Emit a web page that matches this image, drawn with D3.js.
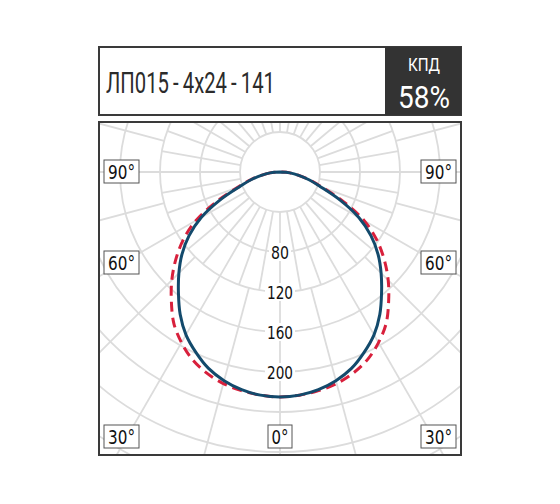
<!DOCTYPE html>
<html>
<head>
<meta charset="utf-8">
<script src="https://cdn.jsdelivr.net/npm/d3@7"></script>
<style>
  body { margin: 0; background: #fff; }
</style>
</head>
<body>
<div id="chart"></div>
<script>
const width = 560;
const height = 504;

// luminous intensity, cd/klm, 0° = straight down
const angles = [0, 5, 10, 15, 20, 25, 30, 35, 40, 45, 50, 55, 60, 65, 70, 75, 80, 85, 90];
const seriesC0 = [225, 224, 221, 216, 209, 199, 188, 174, 158, 143, 128, 111, 91, 66, 43, 30, 19, 10, 0];
const seriesC90 = [225, 224, 222, 219, 214, 207, 197, 185, 169, 153, 136, 118, 97, 70, 45, 31, 19, 10, 0];
const ringValues = [40, 80, 120, 160, 200, 240, 280, 320, 360, 400];
const ringLabels = [80, 120, 160, 200];
const sideLabels = ["90°", "60°", "30°"];
const bottomLabel = "0°";
const title = "ЛП015\u2009-\u20094x24\u2009-\u2009141";
const effLabel = "КПД";
const effValue = "58%";

const plot = { x0: 99, y0: 122, x1: 461, y1: 455 };
const cx = 280;
const cy = 172;

const r = d3.scaleLinear().domain([0, 200]).range([0, 200]);
const rad = (a) => (a * Math.PI) / 180;

const svg = d3
  .select("#chart")
  .append("svg")
  .attr("width", width)
  .attr("height", height)
  .style("font-family", "'DejaVu Sans', sans-serif");

// header
svg
  .append("rect")
  .attr("x", plot.x0)
  .attr("y", 47)
  .attr("width", plot.x1 - plot.x0)
  .attr("height", 68)
  .attr("fill", "#fff")
  .attr("stroke", "#3a3a3a")
  .attr("stroke-width", 2);

svg
  .append("rect")
  .attr("x", 385)
  .attr("y", 47)
  .attr("width", plot.x1 - 385)
  .attr("height", 68)
  .attr("fill", "#333");

const narrow = "'Liberation Sans Narrow', Roboto, sans-serif";

svg
  .append("text")
  .attr("x", 106)
  .attr("y", 93)
  .attr("font-family", narrow)
  .attr("font-size", 30)
  .attr("fill", "#2b2b2b")
  .attr("textLength", 169)
  .attr("lengthAdjust", "spacingAndGlyphs")
  .text(title);

svg
  .append("text")
  .attr("x", 408)
  .attr("y", 71)
  .attr("font-family", narrow)
  .attr("font-size", 18)
  .attr("fill", "#fff")
  .attr("textLength", 32)
  .attr("lengthAdjust", "spacingAndGlyphs")
  .text(effLabel);

svg
  .append("text")
  .attr("x", 398)
  .attr("y", 108)
  .attr("font-family", narrow)
  .attr("font-size", 31)
  .attr("fill", "#fff")
  .attr("textLength", 52)
  .attr("lengthAdjust", "spacingAndGlyphs")
  .text(effValue);

// plot area
svg
  .append("clipPath")
  .attr("id", "plot-clip")
  .append("rect")
  .attr("x", plot.x0)
  .attr("y", plot.y0)
  .attr("width", plot.x1 - plot.x0)
  .attr("height", plot.y1 - plot.y0);

const g = svg
  .append("g")
  .attr("clip-path", "url(#plot-clip)")
  .append("g")
  .attr("transform", `translate(${cx},${cy})`);

const grid = g.append("g").attr("stroke", "#dcdcdc").attr("stroke-width", 1.8).attr("fill", "none");

grid
  .selectAll("circle")
  .data(ringValues)
  .join("circle")
  .attr("r", (d) => r(d));

// spokes: every 10° near the centre, every 15° further out
const spokes = d3
  .range(0, 360, 10)
  .map((a) => ({ a, from: 40, to: 120 }))
  .concat(d3.range(0, 360, 15).map((a) => ({ a, from: 120, to: 500 })));
grid
  .selectAll("line")
  .data(spokes)
  .join("line")
  .attr("x1", (d) => r(d.from) * Math.sin(rad(d.a)))
  .attr("y1", (d) => r(d.from) * Math.cos(rad(d.a)))
  .attr("x2", (d) => r(d.to) * Math.sin(rad(d.a)))
  .attr("y2", (d) => r(d.to) * Math.cos(rad(d.a)));

// curves, mirrored left/right
function mirrored(values) {
  const pts = [];
  for (let i = angles.length - 1; i >= 0; i--) {
    pts.push([Math.PI + rad(angles[i]), r(values[i])]);
  }
  for (let i = 1; i < angles.length; i++) {
    pts.push([Math.PI - rad(angles[i]), r(values[i])]);
  }
  return pts;
}

const line = d3
  .lineRadial()
  .angle((d) => d[0])
  .radius((d) => d[1])
  .curve(d3.curveCatmullRomClosed);

g.append("path")
  .attr("d", line(mirrored(seriesC90)))
  .attr("fill", "none")
  .attr("stroke", "#d8203c")
  .attr("stroke-width", 3)
  .attr("stroke-dasharray", "10,6");

g.append("path")
  .attr("d", line(mirrored(seriesC0)))
  .attr("fill", "none")
  .attr("stroke", "#134a6c")
  .attr("stroke-width", 3);

// ring value labels
const ringLab = g.selectAll(".ring-label").data(ringLabels).join("g").attr("class", "ring-label");
ringLab
  .append("rect")
  .attr("x", (d) => (d >= 100 ? -15 : -11))
  .attr("y", (d) => r(d) - 9)
  .attr("width", (d) => (d >= 100 ? 30 : 22))
  .attr("height", 18)
  .attr("fill", "#fff");
ringLab
  .append("text")
  .attr("x", 0)
  .attr("y", (d) => r(d) + 7)
  .attr("text-anchor", "middle")
  .attr("font-size", 18)
  .attr("fill", "#111")
  .attr("textLength", (d) => (d >= 100 ? 26 : 18))
  .attr("lengthAdjust", "spacingAndGlyphs")
  .text((d) => d);

svg
  .append("rect")
  .attr("x", plot.x0)
  .attr("y", plot.y0)
  .attr("width", plot.x1 - plot.x0)
  .attr("height", plot.y1 - plot.y0)
  .attr("fill", "none")
  .attr("stroke", "#3a3a3a")
  .attr("stroke-width", 2);

// angle label boxes
const sideY = { "90°": 160, "60°": 251, "30°": 425 };
const boxes = [];
sideLabels.forEach((t) => {
  boxes.push({ t, x: 104, y: sideY[t], w: 35, tw: 27 });
  boxes.push({ t, x: 421, y: sideY[t], w: 35, tw: 27 });
});
boxes.push({ t: bottomLabel, x: 268, y: 425, w: 24, tw: 17 });

const box = svg.selectAll(".angle-label").data(boxes).join("g").attr("class", "angle-label");
box
  .append("rect")
  .attr("x", (d) => d.x)
  .attr("y", (d) => d.y)
  .attr("width", (d) => d.w)
  .attr("height", 23)
  .attr("fill", "#fff")
  .attr("stroke", "#555")
  .attr("stroke-width", 1);
box
  .append("text")
  .attr("x", (d) => d.x + d.w / 2)
  .attr("y", (d) => d.y + 19)
  .attr("text-anchor", "middle")
  .attr("font-size", 20)
  .attr("fill", "#111")
  .attr("textLength", (d) => d.tw)
  .attr("lengthAdjust", "spacingAndGlyphs")
  .text((d) => d.t);
</script>
</body>
</html>
